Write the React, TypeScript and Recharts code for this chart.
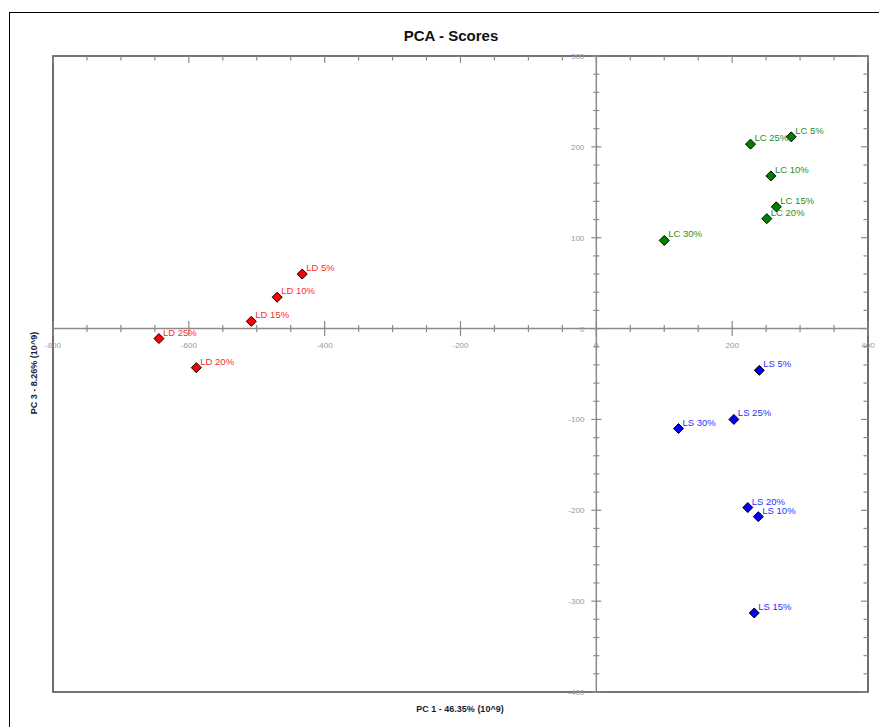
import React from 'react';
import {
  ScatterChart,
  Scatter,
  XAxis,
  YAxis,
  ReferenceLine,
  ReferenceDot,
  ReferenceArea,
} from 'recharts';

// ---- data ----
const ldNames = ['LD 5%', 'LD 10%', 'LD 15%', 'LD 20%', 'LD 25%'];
const ldX = [-433, -470, -508, -589, -644];
const ldY = [60, 34.5, 8, -43, -11];

const lcNames = ['LC 5%', 'LC 10%', 'LC 15%', 'LC 20%', 'LC 25%', 'LC 30%'];
const lcX = [287, 257, 265, 251, 227, 100];
const lcY = [211, 168, 134, 121, 203, 97];

const lsNames = ['LS 5%', 'LS 10%', 'LS 15%', 'LS 20%', 'LS 25%', 'LS 30%'];
const lsX = [240, 238.5, 232.5, 223, 202.5, 121];
const lsY = [-46, -207, -313, -197, -100, -110];

const xTickLabels = [-800, -600, -400, -200, 0, 200, 400];
const yTickLabels = [300, 200, 100, 0, -100, -200, -300, -400];

const X_DOMAIN: [number, number] = [-800, 400];
const Y_DOMAIN: [number, number] = [-400, 300];
const X_MINOR_STEP = 50;
const Y_MINOR_STEP = 20;

const xMinor: number[] = [];
for (let v = X_DOMAIN[0]; v <= X_DOMAIN[1]; v += X_MINOR_STEP) xMinor.push(v);
const yMinor: number[] = [];
for (let v = Y_DOMAIN[0]; v <= Y_DOMAIN[1]; v += Y_MINOR_STEP) yMinor.push(v);

const build = (names: string[], xs: number[], ys: number[]) =>
  names.map((n, i) => ({ name: n, x: xs[i], y: ys[i] }));

const ldData = build(ldNames, ldX, ldY);
const lcData = build(lcNames, lcX, lcY);
const lsData = build(lsNames, lsX, lsY);

const FONT = '"Liberation Sans", Arial, sans-serif';
const TICK_COLOR = '#8c9ab4';
const AXIS_COLOR = '#8a8a8a';

const makeShape = (fill: string, textColor: string) => (props: any) => {
  const { cx, cy, payload } = props;
  if (cx == null || cy == null) return null;
  const r = 5;
  return (
    <g>
      <polygon
        points={`${cx},${cy - r} ${cx + r},${cy} ${cx},${cy + r} ${cx - r},${cy}`}
        fill={fill}
        stroke="#000"
        strokeWidth={1}
      />
      <text
        x={cx + 4}
        y={cy - 3}
        fontSize={9.5}
        fontFamily={FONT}
        fill={textColor}
      >
        {payload.name}
      </text>
    </g>
  );
};

export default function App() {
  return (
    <div
      style={{
        position: 'absolute',
        left: 0,
        top: 0,
        width: 879,
        height: 727,
        overflow: 'hidden',
        background: '#fff',
      }}
    >
      <div
        style={{
          position: 'absolute',
          left: 9,
          top: 12,
          width: 1000,
          height: 1000,
          borderLeft: '1.5px solid #000',
          borderTop: '1.5px solid #000',
        }}
      />
      <div
        style={{
          position: 'absolute',
          left: 0,
          top: 0,
          width: 879,
          height: 727,
        }}
      >
        <ScatterChart
          width={879}
          height={727}
          margin={{ top: 56, right: 11, bottom: 35, left: 53 }}
        >
          <XAxis type="number" dataKey="x" domain={X_DOMAIN} hide allowDataOverflow />
          <YAxis type="number" dataKey="y" domain={Y_DOMAIN} hide allowDataOverflow />

          <ReferenceLine x={0} stroke={AXIS_COLOR} strokeWidth={1.5} />
          <ReferenceLine y={0} stroke={AXIS_COLOR} strokeWidth={1.5} />

          {xMinor.map((v) => (
            <ReferenceDot
              key={'xa' + v}
              x={v}
              y={0}
              r={0}
              shape={(p: any) => {
                const major = v % 200 === 0;
                const h = major ? 7.5 : 3.5;
                const lab = xTickLabels.includes(v);
                return (
                  <g>
                    <line x1={p.cx} x2={p.cx} y1={p.cy - h} y2={p.cy + h} stroke={AXIS_COLOR} strokeWidth={1.2} />
                    {lab ? (
                      <text
                        x={p.cx}
                        y={p.cy + 19}
                        textAnchor="middle"
                        fontSize={8}
                        fontFamily={FONT}
                        fill={TICK_COLOR}
                      >
                        {v}
                      </text>
                    ) : null}
                  </g>
                );
              }}
            />
          ))}

          {yMinor.map((v) => (
            <ReferenceDot
              key={'ya' + v}
              x={0}
              y={v}
              r={0}
              shape={(p: any) => {
                const major = v % 100 === 0;
                const w = major ? 5 : 3;
                const lab = yTickLabels.includes(v);
                return (
                  <g>
                    <line x1={p.cx - w} x2={p.cx + w} y1={p.cy} y2={p.cy} stroke={AXIS_COLOR} strokeWidth={1.2} />
                    {lab ? (
                      <text
                        x={p.cx - (v === 0 ? 12 : 12)}
                        y={p.cy + 3}
                        textAnchor="end"
                        fontSize={8}
                        fontFamily={FONT}
                        fill={TICK_COLOR}
                      >
                        {v}
                      </text>
                    ) : null}
                  </g>
                );
              }}
            />
          ))}

          {xMinor.map((v) => (
            <ReferenceDot
              key={'xt' + v}
              x={v}
              y={Y_DOMAIN[1]}
              r={0}
              shape={(p: any) => {
                const h = v % 200 === 0 ? 7 : 4.5;
                return <line x1={p.cx} x2={p.cx} y1={p.cy} y2={p.cy + h} stroke={AXIS_COLOR} strokeWidth={1.2} />;
              }}
            />
          ))}

          {yMinor.map((v) => (
            <ReferenceDot
              key={'yr' + v}
              x={X_DOMAIN[1]}
              y={v}
              r={0}
              shape={(p: any) => {
                const w = v % 100 === 0 ? 7 : 4.5;
                return <line x1={p.cx - w} x2={p.cx} y1={p.cy} y2={p.cy} stroke={AXIS_COLOR} strokeWidth={1.2} />;
              }}
            />
          ))}

          <ReferenceArea
            x1={X_DOMAIN[0]}
            x2={X_DOMAIN[1]}
            y1={Y_DOMAIN[0]}
            y2={Y_DOMAIN[1]}
            fill="none"
            fillOpacity={0}
            stroke="#4a4a4a"
            strokeWidth={1.6}
          />

          <Scatter data={ldData} isAnimationActive={false} shape={makeShape('#ff0000', '#ff2a2a')} />
          <Scatter data={lcData} isAnimationActive={false} shape={makeShape('#007f00', '#1f8f1f')} />
          <Scatter data={lsData} isAnimationActive={false} shape={makeShape('#0000ee', '#3030ff')} />
        </ScatterChart>
      </div>

      <div
        style={{
          position: 'absolute',
          left: 351,
          width: 200,
          top: 27,
          textAlign: 'center',
          fontFamily: FONT,
          fontWeight: 'bold',
          fontSize: 15,
          color: '#111',
        }}
      >
        PCA - Scores
      </div>

      <div
        style={{
          position: 'absolute',
          left: 360,
          width: 200,
          top: 704,
          textAlign: 'center',
          fontFamily: FONT,
          fontWeight: 'bold',
          fontSize: 9,
          color: '#1a1a33',
        }}
      >
        PC 1 - 46.35% (10^9)
      </div>

      <div
        style={{
          position: 'absolute',
          left: 34 - 100,
          width: 200,
          top: 373 - 6,
          height: 12,
          lineHeight: '12px',
          textAlign: 'center',
          fontFamily: FONT,
          fontWeight: 'bold',
          fontSize: 9,
          color: '#1a1a33',
          transform: 'rotate(-90deg)',
          transformOrigin: '100px 6px',
        }}
      >
        PC 3 - 8.26% (10^9)
      </div>
    </div>
  );
}
